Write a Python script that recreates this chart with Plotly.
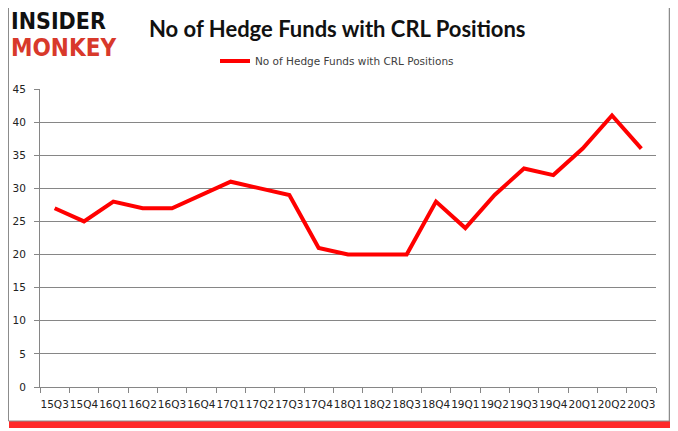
import plotly.graph_objects as go

quarters = ["15Q3", "15Q4", "16Q1", "16Q2", "16Q3", "16Q4", "17Q1", "17Q2", "17Q3", "17Q4",
            "18Q1", "18Q2", "18Q3", "18Q4", "19Q1", "19Q2", "19Q3", "19Q4", "20Q1", "20Q2", "20Q3"]
funds = [27, 25, 28, 27, 27, 29, 31, 30, 29, 21, 20, 20, 20, 28, 24, 29, 33, 32, 36, 41, 36]
series_name = "No of Hedge Funds with CRL Positions"
title_text = "No of Hedge Funds with CRL Positions"

W, H = 678, 431
OFF = 8  # page offset of the plot div
# target plot area in screen pixels
SX0, SX1, SY0, SY1 = 40, 656, 89, 387
L = SX0 - OFF
T = SY0 - OFF
R = W - (SX1 - OFF)
B = H - (SY1 - OFF)
pw, ph = W - L - R, H - T - B


def px(x):
    return (x - OFF - L) / pw


def py(y):
    return (H - B - (y - OFF)) / ph


fig = go.Figure()
fig.add_trace(go.Scatter(x=quarters, y=funds, mode="lines", name=series_name,
                         line=dict(color="#ff0000", width=4)))

shapes = [
    # right soft shadow
    dict(type="rect", xref="paper", yref="paper", x0=px(670), x1=px(675), y0=py(10), y1=py(427),
         fillcolor="#ffaaaa", line=dict(width=0), layer="above"),
    # bottom red shadow
    dict(type="rect", xref="paper", yref="paper", x0=px(9), x1=px(675), y0=py(421), y1=py(428),
         fillcolor="#ff2a2a", line=dict(width=0), layer="above"),
    # frame lines
    dict(type="line", xref="paper", yref="paper", x0=px(669.5), x1=px(669.5), y0=py(8), y1=py(421),
         line=dict(color="#8c8c8c", width=1.5), layer="above"),
    dict(type="line", xref="paper", yref="paper", x0=px(8.5), x1=px(670), y0=py(421), y1=py(421),
         line=dict(color="#8c8c8c", width=1), layer="above"),
    dict(type="line", xref="paper", yref="paper", x0=px(8.5), x1=px(8.5), y0=py(8), y1=py(421),
         line=dict(color="#8c8c8c", width=1), layer="above"),
]

annotations = [
    dict(text="<b>INSIDER</b>", xref="paper", yref="paper", x=px(9), y=py(21.5), xanchor="left",
         yanchor="middle", showarrow=False,
         font=dict(family="DejaVu Sans Condensed, DejaVu Sans", size=23, color="#111111")),
    dict(text="<b>MONKEY</b>", xref="paper", yref="paper", x=px(9), y=py(48), xanchor="left",
         yanchor="middle", showarrow=False,
         font=dict(family="DejaVu Sans Condensed, DejaVu Sans", size=24, color="#d8392b")),
    dict(text="<b>" + title_text + "</b>", xref="paper", yref="paper", x=px(337), y=py(28),
         xanchor="center", yanchor="middle", showarrow=False,
         font=dict(family="Lato, Open Sans", size=22, color="#111111")),
]

fig.update_layout(
    width=W, height=H,
    margin=dict(l=L, r=R, t=T, b=B, autoexpand=False),
    paper_bgcolor="white", plot_bgcolor="white",
    shapes=shapes, annotations=annotations,
    showlegend=True,
    legend=dict(orientation="h", x=px(337), xref="paper", xanchor="center",
                yref="container", y=1 - (61 - OFF) / H, yanchor="middle",
                font=dict(family="DejaVu Sans", size=10.5, color="#404040"),
                bgcolor="rgba(0,0,0,0)"),
    xaxis=dict(type="category", range=[-0.5, 20.5], showgrid=False, showline=True,
               linecolor="#868686", linewidth=1, ticks="outside", tickson="boundaries",
               ticklen=5, tickcolor="#868686", tickangle=0, automargin=False,
               ticklabelstandoff=7,
               tickfont=dict(family="DejaVu Sans", size=10.5, color="#222222")),
    yaxis=dict(range=[0, 45], dtick=5, showgrid=True, gridcolor="#868686", gridwidth=1,
               showline=True, linecolor="#868686", linewidth=1, ticks="outside", ticklen=5,
               tickcolor="#868686", zeroline=False, automargin=False,
               ticklabelstandoff=6,
               tickfont=dict(family="DejaVu Sans", size=10.5, color="#222222")),
)

fig.write_html("out.html")
